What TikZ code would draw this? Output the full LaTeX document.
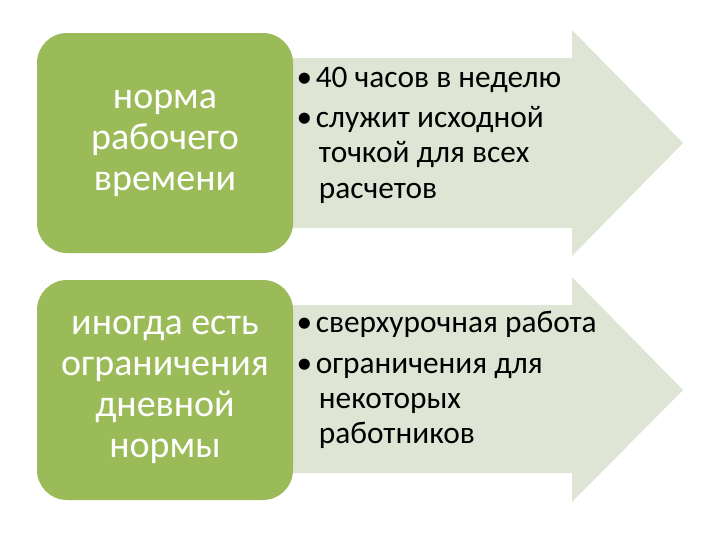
\documentclass[tikz,border=0pt]{standalone}
\usepackage{fontspec}
\setmainfont{Carlito}
\usetikzlibrary{positioning}
\definecolor{olivegreen}{RGB}{155,187,89}
\definecolor{palesage}{RGB}{223,229,212}
\newcommand{\bul}{\makebox[0.56em][l]{\kern-0.05em\textbullet}}
\newcommand{\hang}{\hspace*{0.66em}}

\begin{document}
\begin{tikzpicture}[
  lbox/.style={rectangle, rounded corners=0.75cm, fill=olivegreen,
    minimum width=6.4cm, minimum height=5.5cm, text=white, align=center,
    font=\fontsize{27}{29.2}\selectfont},
  rtext/.style={anchor=west, inner sep=0pt, align=left,
    font=\fontsize{22.3}{25}\selectfont},
  shaft/.style={fill=palesage}
]
\useasboundingbox (0,0) rectangle (18,-13.5);
% arrows behind the boxes
\fill[shaft] (4,-1.45) -- (14.3,-1.45) -- (14.3,-0.75) -- (17.075,-3.575)
  -- (14.3,-6.4) -- (14.3,-5.7) -- (4,-5.7) -- cycle;
\fill[shaft] (4,-7.625) -- (14.3,-7.625) -- (14.3,-6.925) -- (17.075,-9.75)
  -- (14.3,-12.55) -- (14.3,-11.825) -- (4,-11.825) -- cycle;
\node[lbox] (norm) at (4.125,-3.575) {норма\\рабочего\\времени};
\node[lbox] (limit) at (4.125,-9.75) {иногда есть\\ограничения\\дневной\\нормы};
\node[rtext] (hours) at (7.45,-3.38)
  {\bul 40 часов в неделю\\[3.5pt]
   \bul служит исходной\\ \hang точкой для всех\\ \hang расчетов};
\node[rtext] (extra) at (7.45,-9.5)
  {\bul сверхурочная работа\\[3.5pt]
   \bul ограничения для\\ \hang некоторых\\ \hang работников};
\end{tikzpicture}
\end{document}
